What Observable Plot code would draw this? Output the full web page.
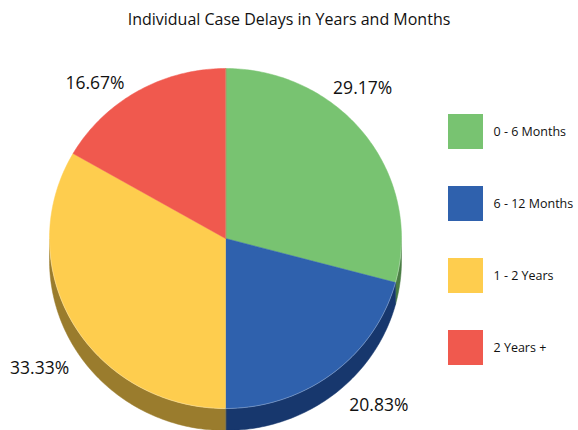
<!DOCTYPE html>
<html>
<head>
<meta charset="utf-8">
<script src="https://cdn.jsdelivr.net/npm/d3@7"></script>
<script src="https://cdn.jsdelivr.net/npm/@observablehq/plot@0.6"></script>
<style>
  body { margin: 0; background: #fff; font-family: "Open Sans", "Lato", sans-serif; }
  #title { width: 578px; height: 29px; padding-top: 9px; font-size: 16px; line-height: 20px; text-align: center; color: #111; }
  #chart svg { display: block; }
</style>
</head>
<body>
<div id="title">Individual Case Delays in Years and Months</div>
<div id="chart"></div>
<script>
// ---- data ----
const categories = ["0 - 6 Months", "6 - 12 Months", "1 - 2 Years", "2 Years +"];
const percents = [29.17, 20.83, 33.33, 16.67];
const percentLabels = ["29.17%", "20.83%", "33.33%", "16.67%"];
const topColors = ["#78c371", "#2f61ad", "#fecd4e", "#f0594e"];
const sideColors = ["#4a7d44", "#17376d", "#9a7c2d", "#a03a33"];

// ---- layout ----
const W = 578, H = 392;
const cx = 225, cy = 200, rx = 176, ry = 170, depth = 22;
const deg = Math.PI / 180;

const arcs = d3.pie().sort(null).value(d => d)(percents);

function pt(a, dy = 0) { return {x: cx + rx * Math.sin(a), y: cy - ry * Math.cos(a) + dy}; }
function samples(a0, a1) {
  const n = Math.max(2, Math.ceil((a1 - a0) / deg));
  return d3.range(n + 1).map(i => a0 + (a1 - a0) * i / n);
}

const marks = [];
// sides (visible lower half: 90deg .. 270deg)
arcs.forEach((s, i) => {
  const a0 = Math.max(s.startAngle, Math.PI / 2), a1 = Math.min(s.endAngle, 3 * Math.PI / 2);
  if (a1 <= a0) return;
  const A = samples(a0, a1);
  const poly = [...A.map(a => pt(a)), ...A.slice().reverse().map(a => pt(a, depth))];
  marks.push(Plot.line(poly, {x: "x", y: "y", fill: sideColors[i], stroke: sideColors[i], strokeWidth: 0.5, curve: "linear-closed"}));
});
// top faces
arcs.forEach((s, i) => {
  const poly = [{x: cx, y: cy}, ...samples(s.startAngle, s.endAngle).map(a => pt(a))];
  marks.push(Plot.line(poly, {x: "x", y: "y", fill: topColors[i], stroke: topColors[i], strokeWidth: 0.5, curve: "linear-closed"}));
});
// light rim along the front edge
marks.push(Plot.line(samples(Math.PI / 2, 3 * Math.PI / 2).map(a => pt(a)), {x: "x", y: "y", stroke: "#ffffff", strokeOpacity: 0.35, strokeWidth: 0.8}));

// percent labels (outside, upper ones a bit more rotated, lower ones pushed past the depth)
const labelData = arcs.map((s, i) => {
  const mid0 = (s.startAngle + s.endAngle) / 2;
  const bottom = Math.cos(mid0) < 0;
  const mid = mid0 - (bottom ? 5 : 10) * deg;
  const R = bottom ? 227 : 203;
  return {x: cx + R * Math.sin(mid), y: cy - R * Math.cos(mid), text: percentLabels[i]};
});
marks.push(Plot.text(labelData, {x: "x", y: "y", text: "text", fontSize: 17.5, fill: "#111", fontFamily: "Open Sans"}));

// legend
const legend = categories.map((c, i) => ({cat: c, i}));
marks.push(Plot.rect(legend, {x1: () => 448, x2: () => 483, y1: d => 76 + 72 * d.i, y2: d => 111 + 72 * d.i, fill: "cat"}));
marks.push(Plot.text(legend, {x: () => 493, y: d => 93.5 + 72 * d.i, text: "cat", textAnchor: "start", fontSize: 12.5, fill: "#111", fontFamily: "Open Sans"}));

const chart = Plot.plot({
  width: W, height: H, margin: 0,
  x: {domain: [0, W], range: [0, W], axis: null},
  y: {domain: [0, H], range: [0, H], axis: null},
  color: {domain: categories, range: topColors},
  style: {background: "#fff", overflow: "visible"},
  marks
});
document.getElementById("chart").appendChild(chart);
</script>
</body>
</html>
